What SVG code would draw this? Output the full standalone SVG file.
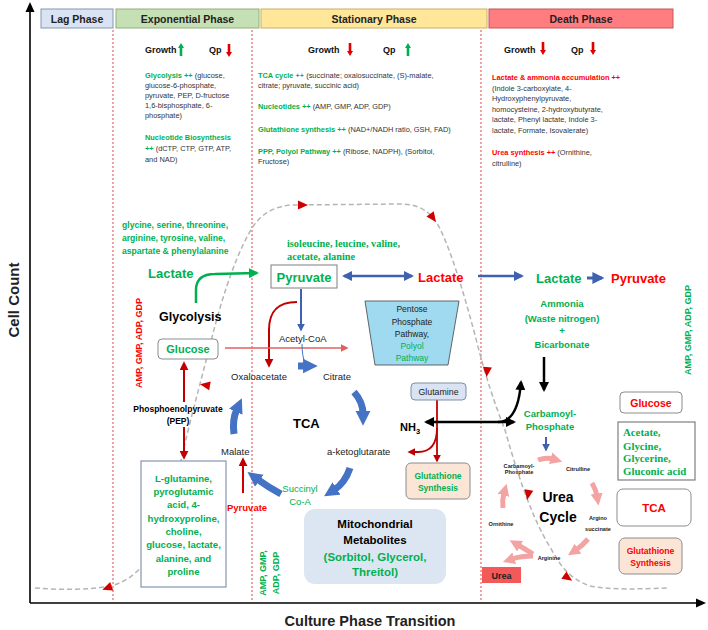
<svg xmlns="http://www.w3.org/2000/svg" width="708" height="630" viewBox="0 0 708 630">
<style>
text{font-family:"Liberation Sans",Arial,sans-serif;fill:#222}
.body{font-size:7.4px;fill:#333}
.b{font-weight:bold}
.g{fill:#00b050}
.r{fill:#ff0000}
.k{fill:#000}
.hd{font-size:10.5px;font-weight:bold;fill:#222;text-anchor:middle}
.gq{font-size:9px;font-weight:bold;fill:#111}
.serif{font-family:"Liberation Serif","Times New Roman",serif;font-weight:bold}
.mid{text-anchor:middle}
.box{fill:#fff;stroke:#8c8c8c;stroke-width:1}
.phase{stroke-width:1}
.sep{stroke:#e03030;stroke-width:0.9;stroke-dasharray:2,2;fill:none}
.curve{fill:none;stroke:#b5b5b5;stroke-width:1.5;stroke-dasharray:5,3}
.tb{fill:none;stroke:#4472c4;stroke-width:7}
.pk{fill:none;stroke:#f4a3a3;stroke-width:5}
.sm{font-size:5.6px;font-weight:bold;fill:#222;text-anchor:middle}
</style>
<defs>
<marker id="hk" viewBox="0 0 10 10" refX="8" refY="5" markerWidth="4" markerHeight="4" orient="auto-start-reverse"><path d="M0,0 L10,5 L0,10 z" fill="#000"/></marker>
<marker id="hr" viewBox="0 0 10 10" refX="8" refY="5" markerWidth="4.5" markerHeight="4.5" orient="auto"><path d="M0,0 L10,5 L0,10 z" fill="#c00000"/></marker>
<marker id="hlr" viewBox="0 0 10 10" refX="8" refY="5" markerWidth="5" markerHeight="5" orient="auto"><path d="M0,0 L10,5 L0,10 z" fill="#e06060"/></marker>
<marker id="hb" viewBox="0 0 10 10" refX="8" refY="5" markerWidth="4" markerHeight="4" orient="auto-start-reverse"><path d="M0,0 L10,5 L0,10 z" fill="#3f62b0"/></marker>
<marker id="hg" viewBox="0 0 10 10" refX="8" refY="5" markerWidth="4" markerHeight="4" orient="auto"><path d="M0,0 L10,5 L0,10 z" fill="#00b050"/></marker>
<marker id="hp" viewBox="0 0 10 10" refX="2" refY="5" markerWidth="2.4" markerHeight="2.6" orient="auto"><path d="M0,0 L10,5 L0,10 z" fill="#f4a3a3"/></marker>
<marker id="hbt" viewBox="0 0 10 10" refX="2" refY="5" markerWidth="2.1" markerHeight="2.3" orient="auto"><path d="M0,0 L10,5 L0,10 z" fill="#4472c4"/></marker>
<path id="up" d="M-1.3,13 L-1.3,5 L-3,5 L0,0 L3,5 L1.3,5 L1.3,13 z"/>
<path id="dn" d="M-1.3,0 L-1.3,8 L-3,8 L0,13 L3,8 L1.3,8 L1.3,0 z"/>
<path id="tri" d="M-5,-4.5 L5,0 L-5,4.5 z" fill="#d00000"/>
</defs>
<rect width="708" height="630" fill="#fff"/>

<!-- axes -->
<g id="axes">
<line x1="30" y1="603" x2="30" y2="10" stroke="#000" stroke-width="1.6"/>
<path d="M25.5,12 L30,2 L34.5,12 z" fill="#000"/>
<line x1="30" y1="603" x2="698" y2="603" stroke="#000" stroke-width="1.6"/>
<path d="M696,598.5 L706,603 L696,607.5 z" fill="#000"/>
<text class="b" x="19" y="300" font-size="15" text-anchor="middle" transform="rotate(-90 19 300)" fill="#111">Cell Count</text>
<text class="b" x="370" y="626" font-size="14.5" text-anchor="middle" fill="#111">Culture Phase Transition</text>
</g>

<!-- phase headers -->
<g id="phase-lag"><rect x="41" y="9" width="72" height="19" fill="#dae3f3" stroke="#8497b0" class="phase"/><text class="hd" x="77" y="22.5">Lag Phase</text></g>
<g id="phase-exp"><rect x="116" y="9" width="143" height="19" fill="#c5e0b4" stroke="#8fae7b" class="phase"/><text class="hd" x="187.5" y="22.5">Exponential Phase</text></g>
<g id="phase-stat"><rect x="261" y="9" width="226" height="19" fill="#ffe699" stroke="#c8b060" class="phase"/><text class="hd" x="374" y="22.5">Stationary Phase</text></g>
<g id="phase-death"><rect x="489" y="9" width="184" height="19" fill="#ff7c80" stroke="#c05858" class="phase"/><text class="hd" x="581" y="22.5">Death Phase</text></g>

<!-- separators -->
<g id="separators">
<line class="sep" x1="113" y1="30" x2="113" y2="601"/>
<line class="sep" x1="252" y1="30" x2="252" y2="601"/>
<line class="sep" x1="481" y1="30" x2="481" y2="601"/>
</g>

<!-- growth curve -->
<g id="growth-curve">
<path class="curve" d="M35,588 C60,590 90,590 110,586 C128,582 140,570 150,557 C160,543 170,510 180,465 C190,420 200,385 210,345 C220,305 232,265 248,235 C256,220 266,208 290,205 L400,204 C420,204 433,212 442,233 C452,255 463,290 475,335 C485,375 495,405 505,430 C515,465 530,515 550,547 C560,565 568,578 590,586 C610,590 640,589 668,588"/>
<use href="#tri" transform="translate(107,588) rotate(160)"/>
<use href="#tri" transform="translate(205,385) rotate(190)"/>
<use href="#tri" transform="translate(303,205)"/>
<use href="#tri" transform="translate(433,218) rotate(55)"/>
<use href="#tri" transform="translate(487,372) rotate(95)"/>
<use href="#tri" transform="translate(528,495) rotate(100)"/>
<use href="#tri" transform="translate(568,578) rotate(35)"/>
</g>

<!-- top notes -->
<g id="notes-exp">
<text class="gq" x="145" y="52.5">Growth</text><use href="#up" x="181" y="43" fill="#00b050"/>
<text class="gq" x="209" y="52.5">Qp</text><use href="#dn" x="229" y="44" fill="#e00000"/>
<text class="body" x="145" y="77.5"><tspan class="g b">Glycolysis ++</tspan> (glucose,</text>
<text class="body" x="145" y="87.5">glucose-6-phosphate,</text>
<text class="body" x="145" y="97.5">pyruvate, PEP, D-fructose</text>
<text class="body" x="145" y="107.5">1,6-bisphosphate, 6-</text>
<text class="body" x="145" y="118">phosphate)</text>
<text class="body g b" x="145" y="140">Nucleotide Biosynthesis</text>
<text class="body" x="145" y="151"><tspan class="g b">++</tspan> (dCTP, CTP, GTP, ATP,</text>
<text class="body" x="145" y="161.5">and NAD)</text>
</g>
<g id="notes-stat">
<text class="gq" x="308" y="52.5">Growth</text><use href="#dn" x="350" y="43" fill="#e00000"/>
<text class="gq" x="383" y="52.5">Qp</text><use href="#up" x="408" y="43" fill="#00b050"/>
<text class="body" x="258" y="77.5"><tspan class="g b">TCA cycle</tspan> ++ (succinate; oxalosuccinate, (S)-malate,</text>
<text class="body" x="258" y="88">citrate; pyruvate, succinic acid)</text>
<text class="body" x="258" y="109"><tspan class="g b">Nucleotides ++</tspan>  (AMP, GMP, ADP, GDP)</text>
<text class="body" x="258" y="131.5"><tspan class="g b">Glutathione synthesis ++</tspan> (NAD+/NADH ratio, GSH, FAD)</text>
<text class="body" x="258" y="153.5"><tspan class="g b">PPP, Polyol Pathway ++</tspan> (Ribose, NADPH), (Sorbitol,</text>
<text class="body" x="258" y="164">Fructose)</text>
</g>
<g id="notes-death">
<text class="gq" x="504" y="52.5">Growth</text><use href="#dn" x="543" y="42" fill="#e00000"/>
<text class="gq" x="571" y="52.5">Qp</text><use href="#dn" x="593" y="42" fill="#e00000"/>
<text class="body r b" x="492" y="80">Lactate &amp; ammonia accumulation ++</text>
<text class="body" x="492" y="90.5">(Indole 3-carboxylate, 4-</text>
<text class="body" x="492" y="101">Hydroxyphenylpyruvate,</text>
<text class="body" x="492" y="111.5">homocysteine,  2-hydroxybutyrate,</text>
<text class="body" x="492" y="122">lactate, Phenyl lactate, Indole 3-</text>
<text class="body" x="492" y="133">lactate, Formate, Isovalerate)</text>
<text class="body" x="492" y="155"><tspan class="r b">Urea synthesis ++</tspan> (Ornithine,</text>
<text class="body" x="492" y="165.5">citrulline)</text>
</g>

<!-- connectors -->
<g id="connectors">
<path d="M196,303 L196,290 Q196,274 215,274 L257,273" fill="none" stroke="#00b050" stroke-width="2.5" marker-end="url(#hg)"/>
<line x1="301" y1="289" x2="301" y2="330" stroke="#3f62b0" stroke-width="2" marker-end="url(#hb)"/>
<line x1="344" y1="276" x2="412" y2="276" stroke="#3f62b0" stroke-width="2.5" marker-start="url(#hb)" marker-end="url(#hb)"/>
<line x1="478" y1="276" x2="522" y2="276" stroke="#3f62b0" stroke-width="2.5" marker-end="url(#hb)"/>
<line x1="587" y1="278" x2="602" y2="278" stroke="#3f62b0" stroke-width="3" marker-end="url(#hb)"/>
<path d="M297,302 C276,302 269,313 269,330 L269,366" fill="none" stroke="#c00000" stroke-width="2" marker-end="url(#hr)"/>
<line x1="225" y1="348" x2="347" y2="348" stroke="#e06060" stroke-width="1.6" marker-end="url(#hlr)"/>
<line x1="184" y1="402" x2="184" y2="363" stroke="#c00000" stroke-width="2" marker-end="url(#hr)"/>
<line x1="184" y1="427" x2="184" y2="458" stroke="#c00000" stroke-width="2" marker-end="url(#hr)"/>
<line x1="243" y1="493" x2="243" y2="459" stroke="#d00000" stroke-width="2" marker-end="url(#hr)"/>
<line x1="437" y1="400" x2="437" y2="461" stroke="#c00000" stroke-width="1.8" marker-end="url(#hr)"/>
<path d="M437,428 Q437,452 418,452 L409,452" fill="none" stroke="#c00000" stroke-width="1.8" marker-end="url(#hr)"/>
<line x1="426" y1="422" x2="514" y2="422" stroke="#000" stroke-width="2.5" marker-start="url(#hk)" marker-end="url(#hk)"/>
<path d="M498,422 Q518,422 521,382" fill="none" stroke="#000" stroke-width="2.5" marker-end="url(#hk)"/>
<line x1="544" y1="357" x2="544" y2="390" stroke="#000" stroke-width="2.5" marker-end="url(#hk)"/>
<line x1="546" y1="437" x2="546" y2="450" stroke="#3f62b0" stroke-width="2" marker-end="url(#hb)"/>
<!-- TCA cycle arrows -->
<path d="M302,344 C302,352 303,358 305,363" fill="none" stroke="#4472c4" stroke-width="1"/>
<path class="tb" d="M298,366 L306,366" marker-end="url(#hbt)"/>
<path class="tb" d="M354,392 Q363,402 363,414" marker-end="url(#hbt)"/>
<path class="tb" d="M350,468 Q345,483 334,490" marker-end="url(#hbt)"/>
<path class="tb" d="M281,494 Q268,487 257,479" marker-end="url(#hbt)"/>
<path class="tb" d="M234,434 Q232,420 237,409" marker-end="url(#hbt)"/>
<!-- urea cycle arrows -->
<path class="pk" d="M538,460 Q546,457 553,459" marker-end="url(#hp)"/>
<path class="pk" d="M592,483 Q596,490 597,496" marker-end="url(#hp)"/>
<path class="pk" d="M588,539 Q582,546 576,550" marker-end="url(#hp)"/>
<path class="pk" d="M533,554 Q525,549 518,545" marker-end="url(#hp)"/>
<path class="pk" d="M533,556 Q521,556 512,559" marker-end="url(#hp)"/>
<path class="pk" d="M503,508 Q502,500 504,493" marker-end="url(#hp)"/>
</g>

<!-- exponential phase nodes -->
<g id="aa-list-exp"><text class="b g" font-size="8.6" x="122" y="228">glycine, serine, threonine,</text><text class="b g" font-size="8.6" x="122" y="241">arginine, tyrosine, valine,</text><text class="b g" font-size="8.6" x="122" y="254">aspartate &amp; phenylalanine</text></g>
<g id="lactate-exp"><text class="b g" font-size="13" x="148" y="278">Lactate</text></g>
<g id="glycolysis"><text class="b k" font-size="12.5" x="159" y="321">Glycolysis</text></g>
<g id="glucose-exp"><rect class="box" x="158" y="339" width="60" height="20" rx="4"/><text class="b g mid" font-size="11" x="188" y="353">Glucose</text></g>
<g id="nucleotides-exp"><text class="b r mid" font-size="9" x="142" y="343" transform="rotate(-90 142 343)">AMP, GMP, ADP, GDP</text></g>
<g id="pep"><text class="b k mid" font-size="8.5" x="178" y="412">Phosphoenolpyruvate</text><text class="b k mid" font-size="8.5" x="178" y="424">(PEP)</text></g>
<g id="aa-box-exp"><rect x="141" y="461" width="85" height="126" fill="#fff" stroke="#8497b0" stroke-width="1.2"/>
<text class="b g mid" font-size="9.6"><tspan x="183.5" y="481.5">L-glutamine,</tspan><tspan x="183.5" y="494.5">pyroglutamic</tspan><tspan x="183.5" y="508">acid, 4-</tspan><tspan x="183.5" y="521.5">hydroxyproline,</tspan><tspan x="183.5" y="534.5">choline,</tspan><tspan x="183.5" y="548">glucose, lactate,</tspan><tspan x="183.5" y="561.5">alanine, and</tspan><tspan x="183.5" y="575">proline</tspan></text></g>

<!-- stationary phase nodes -->
<g id="aa-list-stat"><text class="serif g" font-size="10.3" x="287" y="246.5">isoleucine,  leucine, valine,</text><text class="serif g" font-size="10.3" x="287" y="259.5">acetate, alanine</text></g>
<g id="pyruvate-stat"><rect x="271" y="265" width="66" height="23" fill="#fff" stroke="#7f7f7f"/><text class="b g mid" font-size="13" x="304" y="281.5">Pyruvate</text></g>
<g id="lactate-stat"><text class="b r" font-size="13" x="418" y="282">Lactate</text></g>
<g id="ppp"><polygon points="365,301 459,301 448,365 375,365" fill="#9fdaf0" stroke="#555" stroke-width="0.9"/>
<text class="mid" font-size="8.5" fill="#222"><tspan x="412" y="312">Pentose</tspan><tspan x="412" y="325">Phosphate</tspan><tspan x="412" y="336.5">Pathway,</tspan><tspan x="412" y="349" class="g">Polyol</tspan><tspan x="412" y="361" class="g">Pathway</tspan></text></g>
<g id="acetyl-coa"><text font-size="9.5" x="279" y="341.5">Acetyl-CoA</text></g>
<g id="oxaloacetate"><text font-size="9.5" x="231" y="379.5">Oxaloacetate</text></g>
<g id="citrate"><text font-size="9.5" x="323" y="379.5">Citrate</text></g>
<g id="tca"><text class="b k" font-size="13" x="293" y="428">TCA</text></g>
<g id="akg"><text font-size="9.5" x="327" y="454.5">a-ketoglutarate</text></g>
<g id="malate"><text font-size="9.5" x="221" y="454.5">Malate</text></g>
<g id="succinyl"><text class="g mid" font-size="9.5"><tspan x="300" y="492">Succinyl</tspan><tspan x="300" y="504.5">Co-A</tspan></text></g>
<g id="pyruvate-malate"><text class="b r" font-size="9.5" x="227" y="510.5">Pyruvate</text></g>
<g id="glutamine"><rect x="411" y="383" width="55" height="17" rx="4" fill="#dae3f3" stroke="#7f8fa6"/><text class="mid" font-size="8.8" x="438.5" y="395">Glutamine</text></g>
<g id="nh3"><text class="b k" font-size="11" x="400" y="431">NH<tspan font-size="7.5" dy="2.5">3</tspan></text></g>
<g id="glutathione-stat"><rect x="406" y="463" width="64" height="36" rx="5" fill="#fbe5d6" stroke="#8c8c8c"/><text class="b g mid" font-size="8.5"><tspan x="438" y="479">Glutathione</tspan><tspan x="438" y="491">Synthesis</tspan></text></g>
<g id="mito"><rect x="304" y="509" width="142" height="75" rx="11" fill="#dce6f2"/><text class="b mid" font-size="11.5"><tspan x="375" y="528" class="k">Mitochondrial</tspan><tspan x="375" y="544" class="k">Metabolites</tspan><tspan x="375" y="561" class="g">(Sorbitol, Glycerol,</tspan><tspan x="375" y="576" class="g">Threitol)</tspan></text></g>
<g id="nucleotides-stat"><text class="b g mid" font-size="9" transform="rotate(-90 266 573)" x="266" y="573">AMP, GMP,</text><text class="b g mid" font-size="9" transform="rotate(-90 279 573)" x="279" y="573">ADP, GDP</text></g>

<!-- death phase nodes -->
<g id="lactate-death"><text class="b g" font-size="13" x="536" y="283">Lactate</text></g>
<g id="pyruvate-death"><text class="b r" font-size="13" x="611" y="283">Pyruvate</text></g>
<g id="ammonia"><text class="b g mid" font-size="9.5"><tspan x="562" y="306.5">Ammonia</tspan><tspan x="562" y="321.5">(Waste nitrogen)</tspan><tspan x="562" y="333.5">+</tspan><tspan x="562" y="347.5">Bicarbonate</tspan></text></g>
<g id="carbamoyl"><text class="b g mid" font-size="9.5"><tspan x="550" y="416.5">Carbamoyl-</tspan><tspan x="550" y="429.5">Phosphate</tspan></text></g>
<g id="nucleotides-death"><text class="b g mid" font-size="9" x="691" y="330" transform="rotate(-90 691 330)">AMP, GMP, ADP, GDP</text></g>
<g id="urea-cycle"><text class="b k mid" font-size="14"><tspan x="558" y="502">Urea</tspan><tspan x="558" y="522">Cycle</tspan></text>
<text class="sm"><tspan x="519" y="467.5">Carbamoyl-</tspan><tspan x="519" y="474">Phosphate</tspan></text>
<text class="sm" x="578" y="471">Citrulline</text>
<text class="sm"><tspan x="598" y="520">Argino</tspan><tspan x="598" y="531">succinate</tspan></text>
<text class="sm" x="549" y="560">Arginine</text>
<text class="sm" x="501" y="526">Ornithine</text></g>
<g id="urea"><rect x="482" y="567" width="39" height="16" fill="#f25a5a"/><text class="b mid" font-size="9" x="501.5" y="578.5" fill="#222">Urea</text></g>
<g id="glucose-death"><rect class="box" x="620" y="392" width="62" height="21" rx="4"/><text class="b r mid" font-size="10.5" x="651" y="406.5">Glucose</text></g>
<g id="acetate-box"><rect x="618" y="422" width="77" height="58" fill="#fff" stroke="#7f7f7f" stroke-width="1.2"/><text class="serif g" font-size="10.8"><tspan x="623" y="436">Acetate,</tspan><tspan x="623" y="449.5">Glycine,</tspan><tspan x="623" y="462">Glycerine,</tspan><tspan x="623" y="474.5">Gluconic acid</tspan></text></g>
<g id="tca-death"><rect class="box" x="617" y="489" width="74" height="37" rx="6"/><text class="b r mid" font-size="11.5" x="654" y="512">TCA</text></g>
<g id="glutathione-death"><rect x="619" y="538" width="63" height="36" rx="6" fill="#fbe5d6" stroke="#8c8c8c"/><text class="b r mid" font-size="8.6"><tspan x="650.5" y="554">Glutathione</tspan><tspan x="650.5" y="566">Synthesis</tspan></text></g>
</svg>
